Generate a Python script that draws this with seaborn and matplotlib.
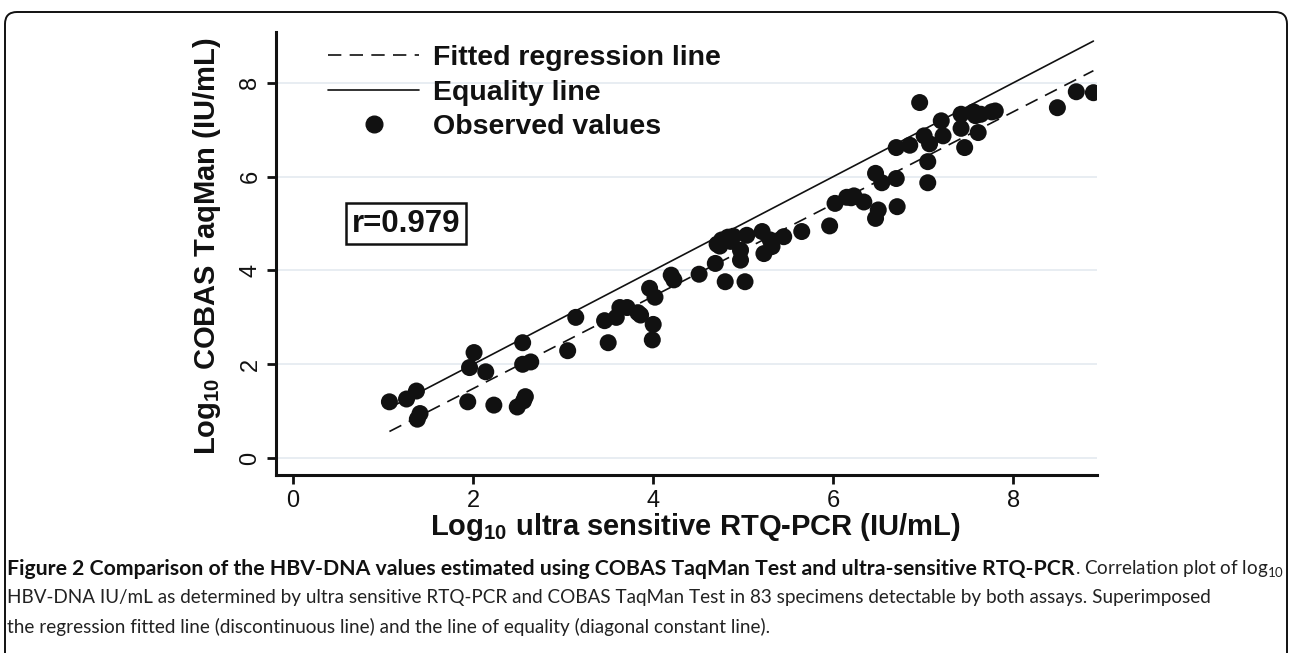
import numpy as np
import pandas as pd
import matplotlib
matplotlib.use("Agg")
import matplotlib.pyplot as plt
import matplotlib.transforms as mtransforms
from matplotlib.lines import Line2D
from matplotlib.patches import FancyBboxPatch
import seaborn as sns

# ---------------- data ----------------
rtq_pcr_log10 = [1.07, 1.26, 1.37, 1.41, 1.38, 1.94, 1.96, 2.01, 2.14, 2.23,
                 2.49, 2.58, 2.56, 2.55, 2.55, 2.64, 3.05, 3.14, 3.46, 3.50,
                 3.59, 3.63, 3.71, 3.83, 3.86, 3.96, 3.99, 4.00, 4.02, 4.20,
                 4.23, 4.51, 4.69, 4.71, 4.74, 4.76, 4.80, 4.83, 4.86, 4.89,
                 4.97, 4.97, 5.02, 5.04, 5.21, 5.23, 5.30, 5.32, 5.45, 5.65,
                 5.96, 6.02, 6.15, 6.20, 6.23, 6.34, 6.47, 6.47, 6.50, 6.54,
                 6.70, 6.70, 6.71, 6.85, 6.96, 7.01, 7.05, 7.05, 7.07, 7.20,
                 7.22, 7.42, 7.42, 7.46, 7.56, 7.58, 7.61, 7.64, 7.76, 7.80,
                 8.49, 8.70, 8.89]
cobas_log10 = [1.20, 1.26, 1.43, 0.95, 0.83, 1.20, 1.93, 2.25, 1.84, 1.13,
               1.09, 1.31, 1.22, 2.46, 2.00, 2.05, 2.29, 3.00, 2.93, 2.46,
               3.00, 3.21, 3.21, 3.10, 3.05, 3.62, 2.52, 2.85, 3.43, 3.90,
               3.80, 3.92, 4.15, 4.56, 4.52, 4.65, 3.76, 4.71, 4.62, 4.73,
               4.43, 4.22, 3.76, 4.75, 4.83, 4.36, 4.65, 4.51, 4.72, 4.83,
               4.95, 5.43, 5.56, 5.55, 5.59, 5.46, 6.07, 5.11, 5.29, 5.87,
               5.96, 6.62, 5.36, 6.67, 7.58, 6.87, 6.32, 5.87, 6.70, 7.19,
               6.87, 7.33, 7.03, 6.62, 7.38, 7.30, 6.94, 7.33, 7.38, 7.40,
               7.47, 7.81, 7.79]

x_ticks = [0, 2, 4, 6, 8]
y_ticks = [0, 2, 4, 6, 8]
legend_labels = ["Fitted regression line", "Equality line", "Observed values"]
r_label = "r=0.979"
x_label = r"Log$_{\mathbf{10}}$ ultra sensitive RTQ-PCR (IU/mL)"
y_label = r"Log$_{\mathbf{10}}$ COBAS TaqMan (IU/mL)"
caption_bold = ("Figure 2 Comparison of the HBV-DNA values estimated using "
                "COBAS TaqMan Test and ultra-sensitive RTQ-PCR")
caption_rest1 = r". Correlation plot of log$_{10}$"
caption_line2 = ("HBV-DNA IU/mL as determined by ultra sensitive RTQ-PCR and COBAS "
                 "TaqMan Test in 83 specimens detectable by both assays. Superimposed")
caption_line3 = ("the regression fitted line (discontinuous line) and the line of "
                 "equality (diagonal constant line).")

df = pd.DataFrame({"rtq": rtq_pcr_log10, "cobas": cobas_log10})

# ---------------- style ----------------
sns.set_theme(style="white")
plt.rcParams["font.family"] = ["Liberation Sans", "DejaVu Sans"]
plt.rcParams["mathtext.fontset"] = "custom"
plt.rcParams["mathtext.rm"] = "Liberation Sans"
plt.rcParams["mathtext.bf"] = "Liberation Sans:bold"
cap_family = ["Lato", "Liberation Sans", "DejaVu Sans"]
INK = "#111111"

W, H = 1292, 653
fig = plt.figure(figsize=(W / 100, H / 100), dpi=100)
fig.patch.set_facecolor("white")
ax = fig.add_axes([276 / W, 1 - 475 / H, (1097 - 276) / W, (475 - 31.7) / H])
ax.set_facecolor("white")

# grid
ax.set_yticks(y_ticks)
ax.set_xticks(x_ticks)
ax.grid(axis="y", color="#e4eaf0", lw=1.2)
ax.grid(axis="x", visible=False)
ax.set_axisbelow(True)

# regression fit and equality line
slope, intercept = np.polyfit(df["rtq"], df["cobas"], 1)
xs = np.array([df["rtq"].min(), df["rtq"].max()])
lines_df = pd.DataFrame({"x": xs, "fit": slope * xs + intercept, "eq": xs})
sns.lineplot(data=lines_df, x="x", y="fit", ax=ax, color=INK, lw=1.2,
             linestyle=(0, (8, 5)))
sns.lineplot(data=lines_df, x="x", y="eq", ax=ax, color=INK, lw=1.2)

# observed values
sns.scatterplot(data=df, x="rtq", y="cobas", ax=ax, color=INK, s=150,
                edgecolor="none", linewidth=0, zorder=3)

ax.set_xlim(-0.19, 8.93)
ax.set_ylim(-0.36, 9.09)

for side in ["top", "right"]:
    ax.spines[side].set_visible(False)
for side in ["left", "bottom"]:
    ax.spines[side].set_linewidth(2.2)
    ax.spines[side].set_color(INK)

ax.tick_params(axis="both", which="major", length=6.5, width=2.0, color=INK,
               labelsize=17, labelcolor=INK, pad=4, direction="out")
ax.tick_params(axis="x", bottom=True)
ax.tick_params(axis="y", left=True)
for lab in ax.get_yticklabels():
    lab.set_rotation(90)
    lab.set_va("center")

ax.set_xlabel(x_label, fontsize=21, fontweight="bold", color=INK, va="center")
ax.set_ylabel(y_label, fontsize=21, fontweight="bold", color=INK, va="center")
ax.xaxis.set_label_coords((695 - 276) / 821, (475 - 527) / 443.3)
ax.yaxis.set_label_coords((207 - 276) / 821, (475 - 246) / 443.3)

# legend
handles = [
    Line2D([], [], color=INK, lw=1.2, linestyle=(0, (8, 5))),
    Line2D([], [], color=INK, lw=1.2),
    Line2D([], [], color=INK, lw=0, marker="o", markersize=12),
]
leg = ax.legend(handles, legend_labels, loc="upper left",
                bbox_to_anchor=(328 / W, 1 - 45 / H), bbox_transform=fig.transFigure,
                frameon=False, prop={"weight": "bold", "size": 20.5},
                handlelength=3.2, handletextpad=0.5, labelspacing=0.3,
                borderpad=0, borderaxespad=0)
for t in leg.get_texts():
    t.set_color(INK)

# correlation box
ax.text(1.25, 5.0, r_label, fontsize=22.5, fontweight="bold", color=INK,
        ha="center", va="center",
        bbox=dict(boxstyle="square,pad=0.18", fc="white", ec=INK, lw=1.8))

# outer rounded frame
frame = FancyBboxPatch((5, -30), 1282, 641 + 30,
                       boxstyle="round,pad=0,rounding_size=12",
                       transform=mtransforms.IdentityTransform(),
                       fill=False, ec=INK, lw=1.4)
fig.patches.append(frame)

# caption
plt.rcParams["mathtext.rm"] = "Lato"
x0 = 7.0


def fit_size(text_obj, target, size):
    for _ in range(3):
        fig.canvas.draw()
        w = text_obj.get_window_extent(fig.canvas.get_renderer()).width
        size = size * target / w
        text_obj.set_fontsize(size)
    return size


# regular size from the second line
t_l2 = fig.text(x0 / W, 1 - 598 / H, caption_line2, fontsize=15,
                family=cap_family, va="center", color="#222222")
reg_size = fit_size(t_l2, 1196.0, 15.0)
fig.text(x0 / W, 1 - 627 / H, caption_line3, fontsize=reg_size,
         family=cap_family, va="center", color="#222222")

# first line: regular tail at reg_size, bold part sized to fill the rest
t2 = fig.text(0, 1 - 569 / H, caption_rest1, fontsize=reg_size,
              family=cap_family, va="center", color="#222222")
fig.canvas.draw()
tail_w = t2.get_window_extent(fig.canvas.get_renderer()).width
t1 = fig.text(x0 / W, 1 - 569 / H, caption_bold, fontsize=reg_size, fontweight="bold",
              family=cap_family, va="center", color=INK)
fit_size(t1, 1280.0 - tail_w, reg_size)
fig.canvas.draw()
b1 = t1.get_window_extent(fig.canvas.get_renderer())
t2.set_x(b1.x1 / W)

fig.savefig("out.png", dpi=100, facecolor="white")
